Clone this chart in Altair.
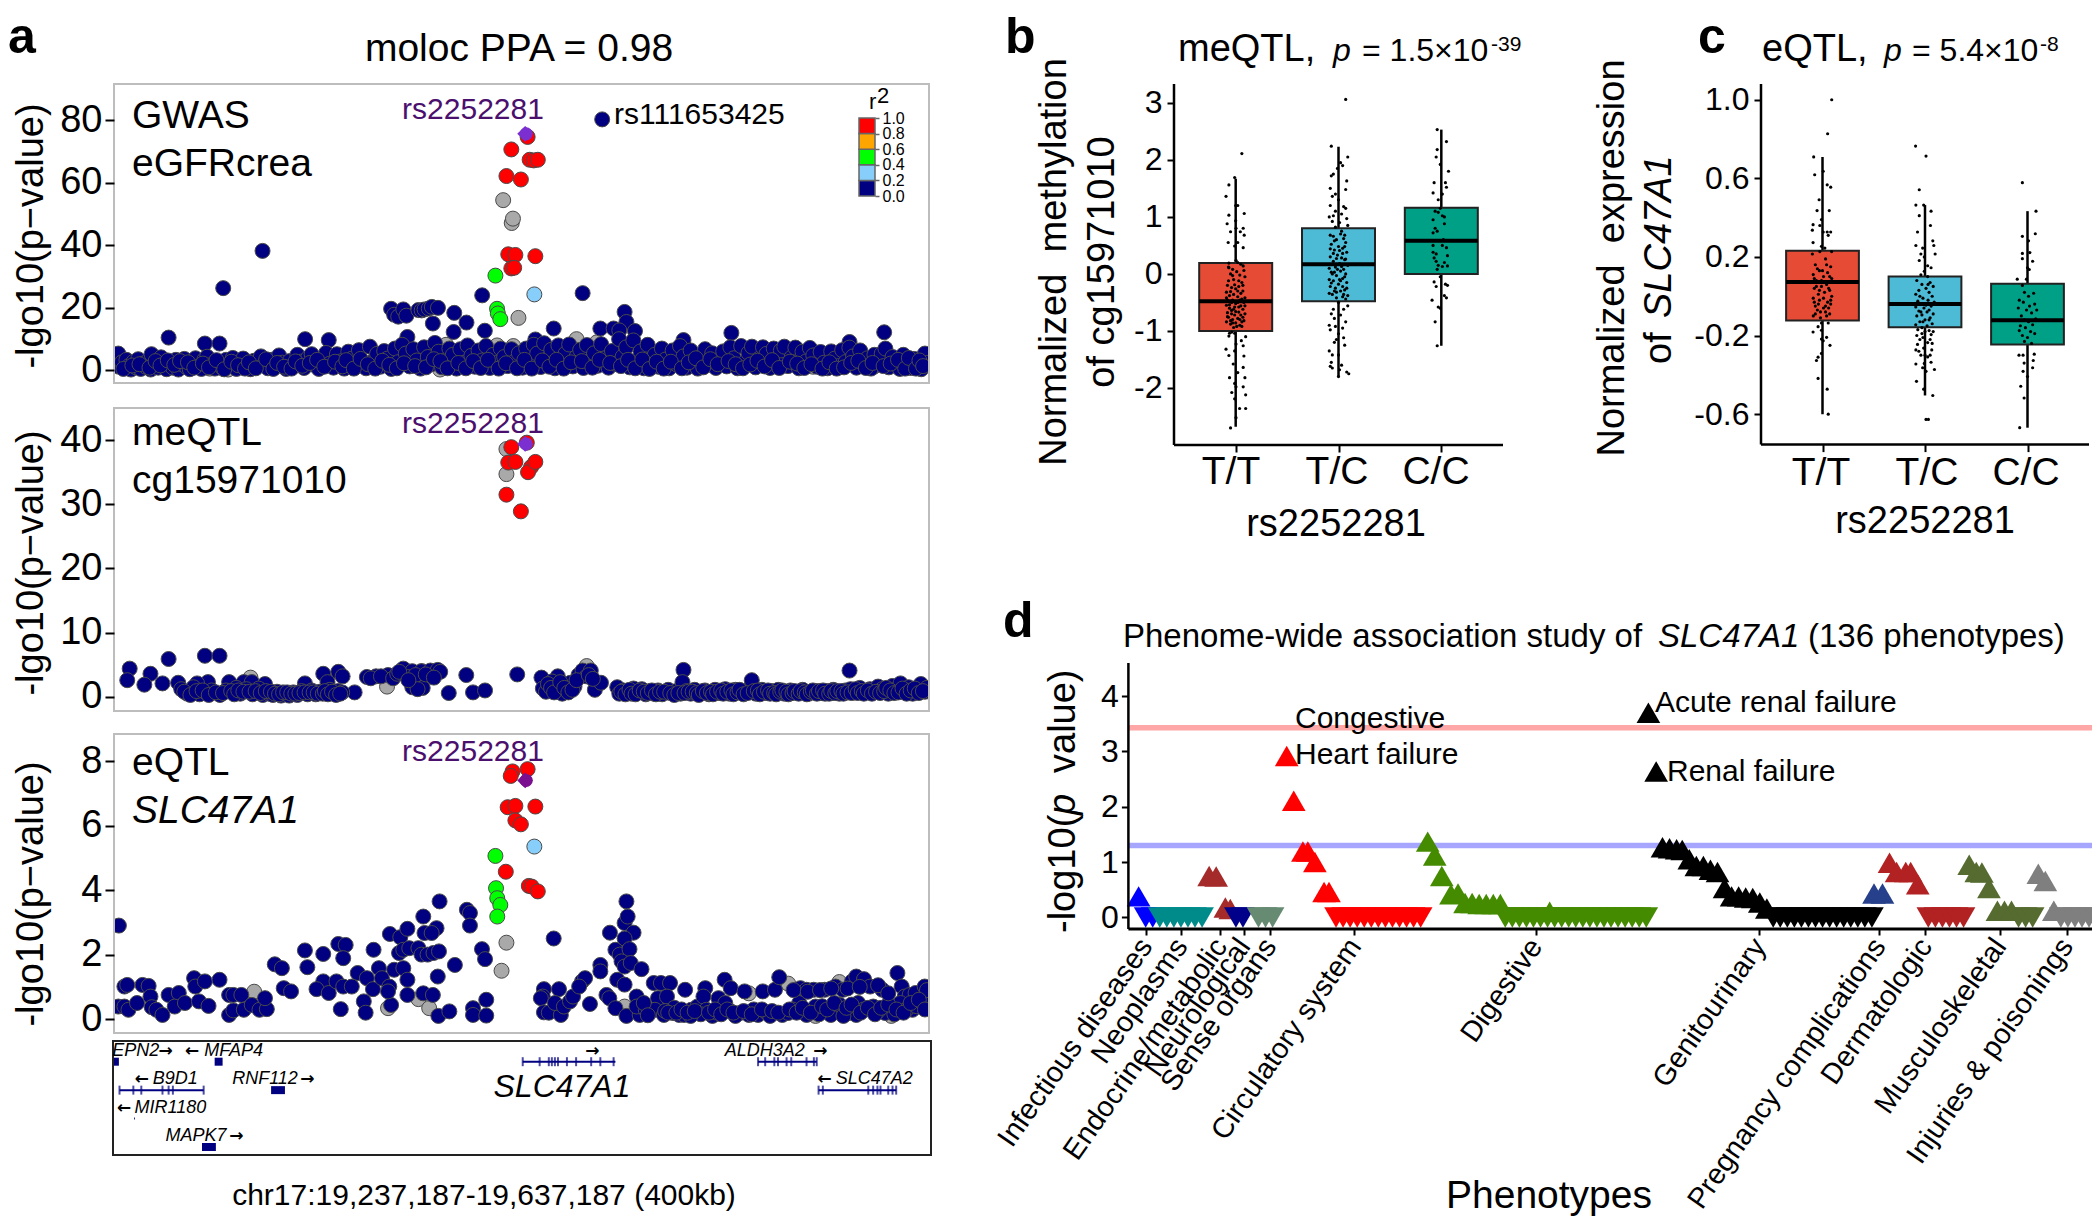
import altair as alt
import pandas as pd

F = "Liberation Sans"
NAVY, RED, GREEN, LBLUE, GRAY = "#000080", "#FF0000", "#00FF00", "#87CEFA", "#A9A9A9"
NB = "\u00a0"

# ---------- panel a : kb from window start, -log10 p ----------
a1_gray = [(47,0.6),(54,0.4),(56,0.3),(163,8.2),(188,8),(196,7.8),(199,5),(227,10),(237,9),(238,6),(160,0.3),(343,1.2),(373,1.2),(149,6),(142,7)]
a1_navy = [(239.6,80.2),(72.9,38.2),(53.6,26.3),(180.7,24),(230,24.7),(136,19.7),(137.5,17.8),(139.5,17.2),(142,19.5),(143.5,17.5),(149.4,19.3),(151,19.2),(152.4,19.5),(154.5,19.8),(156,20.3),(159,20),(156.5,15),(167,18.4),(173,15.3),(166.7,12.3),(182,12.7),(26.8,10.5),(44.6,8.6),(51.8,8.6),(93.8,10),(105.4,9.7),(144,10.7),(250.6,18.7),(251.5,15.5),(255.7,12.6),(238.7,13.4),(245.2,13.4),(248,12.8),(279.5,9.7),(303,12),(378,12.2),(361,9.1),(215.8,13.4),(206.8,9.9),
(2.1,5.4),(2.4,1.2),(3.9,2.6),(5.2,0.8),(6.1,3.4),(7.4,1.5),(8.3,0.3),(9.6,2.8),(10.8,1.0),(11.9,3.6),(13.1,0.5),(14.2,2.2),(15.6,1.2),(16.7,3.1),(18.0,0.3),(19.2,2.0),(18.4,5.2),(21.7,0.9),(23.1,4.2),(24.6,1.6),(25.8,0.4),(27.3,2.6),(28.9,0.9),(30.4,3.4),(31.6,0.3),(33.0,2.1),(34.5,3.7),(35.7,1.0),(37.2,0.4),(38.6,2.9),(40.0,3.9),(41.3,1.3),(42.9,0.5),(44.4,3.5),(45.7,4.4),(47.8,1.8),(49.5,0.6),(51.0,2.5),(53.2,0.9),(55.0,3.4),(56.9,1.4),(58.3,4.0),(60.1,0.5),(61.8,2.6),(63.4,3.8),(65.2,1.1),(67.0,0.4),(68.7,3.1),(70.4,1.6),(72.1,4.5),(73.9,2.2),(75.5,0.7),(77.3,3.4),(79.2,1.2),(81.0,4.8),(82.6,2.5),(84.5,0.5),(86.2,3.0),(88.1,1.3),(90.0,5.0),(91.6,2.8),(93.3,0.8),(95.2,4.0),(97.0,5.2),(98.8,1.6),(100.5,0.5),(102.3,3.5),(104.1,5.6),(106.0,2.2),(107.7,0.9),(109.4,5.2),(111.2,2.9),(113.0,0.6),(115.0,6.0),(116.8,3.8),(118.5,1.0),(120.2,6.5),(122.0,2.4),(123.7,0.7),(125.6,7.6),(127.3,3.1),(129.1,5.3),(130.8,1.2),(132.6,6.2),(134.2,3.8),(136.1,0.5),(137.9,7.0),(139.6,2.7),(141.4,8.2),(143.2,5.4),(145.1,1.3),(146.9,6.8),(148.6,3.2),(150.4,0.6),(152.2,7.4),(154.0,4.3),(155.8,2.0),(157.5,8.8),(159.3,6.0),(161.0,1.0),(162.8,3.3),(164.6,7.0),(166.3,5.0),(168.1,0.6),(170.0,6.8),(171.8,2.5),(173.5,8.0),(175.4,4.7),(177.1,1.2),(178.9,6.4),(180.7,3.2),(182.6,7.8),(184.4,0.8),(186.1,5.0),(187.9,2.4),(189.8,7.0),(191.5,4.3),(193.2,1.4),(195.1,6.8),(196.9,3.0),(198.7,5.5),(200.5,0.9),(202.3,7.0),(204.1,2.6),(206,8.2),(207.7,5.4),(209.4,1.1),(211.1,8.7),(212.8,3.7),(214.6,6.6),(216.4,0.7),(218.1,8.0),(219.9,2.9),(221.6,5.4),(223.4,8.3),(225.2,1.3),(227,4.3),(228.8,6.6),(230.4,0.8),(232.1,8.1),(233.9,3.1),(235.6,5.5),(237.4,1.5),(239.1,8.4),(241,3.9),(242.7,0.9),(244.4,6.2),(246.2,2.1),(247.9,10.0),(249.6,4.4),(251.4,7.4),(253.1,1.0),(254.9,9.6),(256.7,3.0),(258.4,6.1),(260.1,0.7),(261.9,8.2),(263.7,2.6),(265.4,5.0),(267.1,1.2),(268.9,7.0),(270.7,3.5),(272.5,0.7),(274.2,6.4),(276,2.0),(277.8,7.8),(279.5,4.5),(281.2,0.9),(283,6.4),(284.8,2.9),(286.5,0.6),(288.3,4.5),(290.1,6.8),(291.8,1.8),(293.6,5.5),(295.4,0.8),(297.2,3.3),(299,6.1),(300.7,1.3),(302.5,7.4),(304.2,3.9),(306,0.7),(307.8,7.8),(309.6,2.6),(311.4,5.6),(313.1,7.6),(314.9,1.0),(316.7,3.8),(318.5,7.4),(320.2,5.3),(322,0.8),(323.8,7.0),(325.6,2.6),(327.3,6.4),(329,7.6),(330.8,1.4),(332.6,4.2),(334.4,7.3),(336.1,0.7),(337.9,6.0),(339.7,2.9),(341.5,7.2),(343.2,4.8),(345,1.2),(346.8,5.9),(348.5,2.5),(350.2,0.7),(352,6.1),(353.8,3.8),(355.6,1.4),(357.4,6.5),(359.1,2.7),(360.9,7.3),(362.7,4.5),(364.4,0.9),(366.2,6.4),(368,2.0),(369.8,3.9),(371.5,0.6),(373.2,5.0),(375,2.7),(376.8,5.4),(378.6,7.0),(380.3,1.0),(382.1,4.3),(383.9,2.2),(385.7,0.5),(387.4,5.0),(389.2,2.8),(391,0.8),(392.7,3.7),(394.5,1.7),(396.2,0.4),(398,5.4),(398.9,2.4)]
a1_extra = [(4.6,0.5),(9,1.6),(12.5,2.0),(17.4,0.9),(20.4,3.0),(22.8,1.6),(26.4,3.2),(29.6,1.8),(32.4,3.0),(36.3,2.6),(39.4,0.9),(43.6,2.2),(46.6,1.0),(50.3,3.3),(54.1,0.4),(57.6,2.8),(60.9,1.7),(64.3,0.6),(66.2,2.6),(69.6,0.7),(74.7,3.6),(78.2,0.5),(80.1,2.4),(83.5,1.2),(87.1,0.6),(89.1,2.9),(92.4,1.5),(96.1,2.4),(99.7,3.4),(103.2,1.2),(108.5,2.8),(112.1,1.3),(114,3.3),(117.7,0.6),(121,3.7),(124.6,2.0),(128.2,0.6),(131.7,3.1),(135.1,1.8),(138.8,0.7),(142.3,2.3),(147.8,1.4),(153.1,1.0),(157,3.6),(160.2,3.0),(163.7,0.7),(169,2.4),(172.7,0.7),(176.3,3.0),(180,0.8),(183.5,3.4),(188.8,0.6),(192.4,2.3),(197.8,0.7),(201.4,3.4),(205,0.6),(210.2,3.2),(213.7,1.2),(217.2,3.4),(220.7,0.6),(224.3,2.6),(229.6,3.0),(234.8,0.9),(238.3,3.4),(243.5,2.4),(248.8,1.4),(252.3,3.4),(255.8,0.7),(259.3,3.5),(262.8,0.5),(266.3,2.8),(269.8,0.6),(273.3,2.8),(278.7,0.7),(282.1,2.6),(285.6,3.9),(289.2,1.0),(292.7,3.6),(296.3,2.0),(301.6,3.0),(305.1,2.0),(308.7,0.7),(312.3,1.9),(315.8,3.1),(319.3,1.3),(323,3.3),(326.5,0.8),(331.7,2.8),(335.3,2.2),(338.8,0.8),(342.3,2.0),(347.7,0.6),(351.1,2.6),(354.7,0.6),(358.3,1.0),(361.8,2.4),(365.3,3.1),(369,0.8),(372.3,2.4),(377.7,1.4),(381.2,2.2),(384.8,3.4),(388.3,0.6),(390.1,4.0),(393.6,0.6),(395.3,3.2),(397.1,1.4)]
a1_red = [(203,74.6),(195,70.6),(204,67.3),(206,67.1),(208,67.3),(192.6,62.1),(199.7,61),(193.5,37.1),(197,36.9),(206.8,36.5),(195,32.6),(196.4,32.8)]
a1_grayhi = [(191,54.4),(195.2,47.1),(195.8,48.5),(198.5,16.8)]
a1_green = [(187.2,30.3),(188,19.7),(188.4,18.2),(189.6,16.4)]
a1_lblue = [(206.3,24.3)]
top_snp_x = [201.8]
a1_top = [75.6]
a2_top = [39.4]
a3_top = [7.4]

a2_gray = [(134,1.6),(67,3),(146,2.5),(151,4),(232,4.8),(192.6,38.6),(192.6,34.7),(352,0.6)]
a2_navy = [(7.7,4.4),(6.5,2.6),(17.9,3.6),(14.9,1.9),(26.8,5.9),(23.8,2.1),(31.5,2.2),(44.6,6.4),(51.8,6.4),(46.1,2.3),(40.8,2.1),(56.5,2.3),(63.7,2.3),(67.6,2.3),(74.1,2),(93.7,2.1),(102.7,3.6),(110.1,3.9),(112.2,3.2),(104.8,2.3),(118.1,0.7),(124.1,3.1),(128.6,3.2),(134.5,3.4),(142,4.4),(146.4,4),(150.9,4),(155.3,4.1),(158.9,4.2),(160.1,3.9),(146.4,1.5),(151.5,1.4),(164.3,0.6),(172.9,3.4),(176.2,0.7),(182.1,1),(197.9,3.5),
(33,1.2),(36,0.5),(39,1.5),(42,0.4),(45,0.7),(48,1.0),(52,0.3),(55,1.0),(60,1.4),(62,0.5),(65,1.2),(68,0.4),(71,1.3),(73,0.3),(76,0.5),(78,0.3),(80,0.8),(82,0.2),(84,0.5),(86,0.2),(88,0.7),(90,0.3),(92,0.9),(95,0.4),(97,1.0),(99,0.4),(101,0.8),(104,0.6),(106,1.1),(108,0.5),(110,0.9),(112,0.7),
(126,2.9),(131,3.2),(137,2.9),(139,3.6),(144,3.1),(148,3.4),(153,3.5),(157,3.0),(140,3.9),(149,1.2),(144.5,2.6),
(209.8,3),(217.8,3.2),(210.5,1.3),(212,0.8),(215,2.4),(218,1.2),(220,0.5),(222,1.1),(224,2.2),(226,1.6),(228,3.4),(230,4.1),(232,3.2),(234,4.1),(236,1.1),(239,2.2),(247,1.5),(248,0.5),(250,1.0),(252,0.7),(255,1.3),(257,0.8),(259,1.2),(261,0.4),(263,0.9),(265,0.5),(267,1.0),(269,0.4),(272,1.1),(274,0.6),(276,0.9),(278,0.5),(279.5,4.2),(279,2.3),(281,0.9),(283,0.5),(285,1.1),(288,0.6),(290,1.0),(292,0.4),(295,1.1),(297,0.6),(300,1.2),(302,0.5),(305,1.1),(308,0.6),(310,0.9),(312,1.2),(313,2.6),(315,0.5),(318,1.1),(320,0.6),(323,0.9),(326,1.1),(329,0.5),(332,1.0),(335,0.7),(338,1.1),(341,0.5),(344,0.9),(347,0.6),(350,0.9),(353,1.1),(356,0.5),(359,1.0),(361,4.1),(361.5,1.2),(363,0.7),(366,1.4),(369,0.7),(371,1.2),(373,0.9),(375,1.6),(377,1.2),(380,0.5),(382,1.7),(384,1.2),(386,2.1),(388,0.8),(390,1.5),(392,0.5),(394,1.1),(396,2.0),(398,0.8),(399,1.4)]
a2_extra = [(34.5,0.8),(37.5,0.3),(40.5,0.9),(43.5,1.0),(46.5,0.3),(50,0.7),(53.5,0.6),(57.5,0.9),(59,0.4),(61,1.0),(63.5,0.8),(66.5,0.8),(69.5,0.9),(72,0.6),(74.5,0.9),(77,0.8),(79,0.5),(81,0.4),(83,0.7),(85,0.7),(87,0.5),(89,0.5),(91,0.6),(93.5,0.7),(96,0.7),(98,0.7),(100,0.5),(102.5,0.5),(103.5,0.9),(105,0.4),(107,0.8),(109,0.3),(111,0.5),(213,2.0),(214.5,1.4),(216,0.7),(219,2.3),(221,1.4),(223,0.7),(225,1.1),(227,2.6),(233,3.4),(235,2.8),(249,0.8),(251,0.4),(253,1.1),(254,0.5),(256,0.4),(258,1.0),(260,0.8),(262,0.6),(264,1.0),(266,0.4),(268,0.8),(270,0.8),(273,0.6),(275,0.3),(277,0.6),(280,0.6),(282,0.8),(284,0.8),(286,0.6),(287,0.3),(289,0.9),(291,0.6),(293,0.8),(294,0.4),(296,0.8),(298,1.0),(299,0.5),(301,0.8),(303,1.0),(304,0.4),(306,0.7),(307,1.1),(309,0.4),(311,0.6),(314,0.9),(316,1.0),(317,0.4),(319,0.8),(321,1.0),(322,0.5),(324,0.6),(325,0.4),(327,0.8),(328,1.0),(330,0.8),(331,0.4),(333,0.6),(334,0.9),(336,0.5),(337,0.9),(339,0.7),(340,0.4),(342,0.8),(343,1.0),(345,0.5),(346,0.9),(348,1.0),(349,0.5),(351,0.5),(352,0.9),(354,0.6),(355,0.9),(357,0.9),(358,0.5),(360,0.7),(362,0.6),(364,1.2),(365,0.6),(367,0.9),(368,0.5),(370,1.0),(372,0.5),(374,0.8),(376,0.6),(378,0.9),(379,1.4),(381,1.0),(383,0.6),(385,0.7),(387,1.3),(389,0.5),(391,1.0),(393,1.3),(395,0.6),(397,0.9)]
a2_red = [(195,38.9),(193.5,36.5),(197,36.6),(204.7,35.8),(203.2,35),(206.8,36.6),(192.6,31.5),(199.7,28.9),(202.6,39.6)]

a3_gray = [(134.5,0.34),(149.4,0.62),(154.7,0.34),(68.8,0.85),(250.6,0.39),(311.6,0.8),(330.9,1.1),(356,1.15),(344.3,0.1),(381.5,0.1)]
a3_grayhi = [(192.6,2.37),(190.2,1.5)]
a3_navy = [(2.4,2.9),(5.1,1.01),(6.5,1.06),(2.1,0.39),(5.1,0.39),(7.1,0.29),(11.3,0.5),(14,1.06),(17,1.03),(17.9,0.7),(18.5,0.37),(20.8,0.29),(23.8,0.13),(26.8,0.75),(31.8,0.81),(29.8,0.39),(34.8,0.5),(39.3,1.27),(39.9,1.01),(41.7,0.55),(44.6,1.17),(46.4,0.41),(51.8,1.22),(56.5,0.75),(58.6,0.75),(62.5,0.75),(56.5,0.13),(58.6,0.27),(63.7,0.29),(67.6,0.44),(71.4,0.29),(75,0.31),(74.1,0.65),(78.9,1.7),(82.4,1.58),(83.3,0.96),(86.9,0.86),(93.7,2.13),(94.9,1.61),(102.7,2.02),(102.7,1.17),(99.4,0.93),(105.4,0.81),(110.1,2.33),(113.7,2.3),(112.5,1.89),(111.3,0.31),(109.2,1.17),(112.5,1.01),(119.6,1.43),(116.7,1.01),(122.6,0.55),(123.5,0.2),(127.4,2.15),(124.1,1.27),(127.1,0.93),(130,1.58),(131.5,1.27),(135.1,1.01),(135.4,2.64),(140.5,2.54),(137.5,1.53),(139.9,2.05),(142,2.15),(144.9,2.2),(144,2.8),(142,1.58),(144,1.22),(136,0.44),(134.5,0.86),(144,0.75),(149.4,2.2),(151.8,3.18),(152.4,2.67),(150.9,2.0),(153.9,2.0),(156.8,2.05),(158.3,2.82),(155.9,2.67),(159.5,2.1),(159.8,3.65),(158.9,1.32),(167.3,1.68),(151.8,0.8),(156.5,0.75),(159.2,0.1),(164.6,0.24),(173.2,3.39),(174.7,3.29),(174.7,2.9),(180.6,2.17),(182.1,1.86),(176.2,0.34),(176.2,0.13),(182.7,0.6),(182.7,0.11),
(211,0.93),(210.4,0.7),(209.5,0.65),(211,0.21),(213.4,0.2),(219.3,0.13),(218.4,0.93),(216.4,0.5),(220.8,0.39),(223.8,0.55),(225.3,0.7),(215.8,2.5),(229.7,1.17),(231.2,1.27),(228.3,1.01),(233.6,0.47),(238.7,1.68),(238.7,1.48),(241.7,0.75),(243.1,0.65),(246.1,0.34),(243.4,2.68),(246.1,2.15),(248.2,2.0),(250.6,2.98),(251.5,3.65),(252.1,3.18),(255,2.68),(250.6,2.5),(253,2.17),(249.1,1.79),(250.6,1.63),(253.6,1.74),(258.9,1.55),(247,1.22),(250.6,1.07),(251.5,0.1),(256.5,0.7),(258,0.13),(256.5,0.39),(261,0.29),(264.9,1.12),(268.4,1.12),(272.9,1.12),(267,0.65),(271.4,0.7),(265.5,0.29),(269.9,0.13),(274.4,0.19),(277.4,0.13),(280.3,0.91),(279.8,0.13),(283.3,0.29),(286.3,0.39),(290.2,0.96),(289.3,0.7),(290.8,0.29),(293.7,0.1),(296.7,0.65),(299.7,1.22),(302.7,0.96),(309.5,0.86),(302.7,0.24),(307.1,0.19),(311.6,0.13),(316.1,0.13),(318.4,0.86),(320.5,0.19),(324.4,0.91),(326.5,1.3),(328,0.13),(330.9,0.19),(336.9,0.96),(336.3,0.5),(339.9,0.91),(343.4,0.91),(339.9,0.13),(344.3,0.39),(348.8,0.91),(354.1,1.01),(351.8,0.13),(357.7,0.91),(356.2,0.44),(362.2,1.17),(364.3,1.32),(368.1,1.24),(360.7,0.19),(365.2,0.5),(364.3,0.13),(371.1,1.01),(372.6,0.39),(377.1,0.91),(381.5,0.24),(384.5,1.43),(386.6,1.01),(388.1,0.7),(390.5,0.75),(393.4,0.81),(397.9,1.01),(396.4,0.5),(391.9,0.29),(386,0.5),(378.5,0.19),(399.4,0.5),
(300,0.5),(305,0.1),(314,0.3),(322,0.1),(333,0.3),(346,0.15),(358,0.1),(368,0.3),(375,0.25),(383,0.15),(389,0.3),(394,0.4),(399,0.9),(296,0.2),(288,0.15),(283,0.1),(275,0.35),(260,0.5),(262,0.12),
(270.5,0.25),(272,0.2),(276,0.2),(278.5,0.3),(281.5,0.2),(285,0.25),(292,0.2),(295,0.3),(298,0.15),(301,0.3),(304,0.2),(309,0.25),(313,0.15),(318,0.3),(323,0.25),(326,0.2),(331.5,0.3),(335,0.2),(338,0.35),(342,0.2),(347.5,0.4),(350,0.3),(353.5,0.5),(359.5,0.35),(362,0.45),(366.5,0.2),(370,0.35),(373.5,0.15),(376.5,0.35),(380,0.45),(384,0.3),(387.5,0.2),(391,0.5),(395,0.6),(398,0.3),(333.5,0.9),(340.5,0.85),(346.5,0.9),(352,0.95),(360,0.95),(366,1.0),(375,1.05),(380,0.8)]
a3_red = [(203,7.75),(195.6,7.68),(194.7,7.54),(193.2,6.57),(197,6.61),(206.8,6.59),(197,6.16),(199.7,6.04),(192.3,4.57),(203.6,4.13),(205,4.11),(208,3.96)]
a3_green = [(187.2,5.06),(187.5,4.06),(188.1,3.75),(189.6,3.54),(188.1,3.18)]
a3_lblue = [(206.3,5.35)]

# genes: kb positions, track row
gene_lines = [("SLC47A1",200.6,246.1,1),("ALDH3A2",316.1,344.9,1),("B9D1",2.7,44,2),("SLC47A2",345.8,383.9,2),("EPN2",0,2.4,1),("MFAP4",49.4,53.3,1),("RNF112",77.1,83.9,2),("MAPK7",43.2,50,4),("MIR1180",9.9,10.3,3)]
gene_block = ["EPN2","MFAP4","RNF112","MAPK7"]
exon_x = [200.6,208.9,213.4,214.9,216.4,217.9,222.3,226.8,234.2,238.7,245.2,316.1,319.6,324.1,325.9,330.1,332.4,339.9,343.5,344.9,2.7,9.5,13.4,23.8,26.8,28.9,44,345.8,347.9,370.2,372.6,374.7,376.2,380,382.1,383.9]
exon_row = [1]*20 + [2]*16
gene_names = ["EPN2","MFAP4","ALDH3A2","B9D1","RNF112","SLC47A2","MIR1180","MAPK7"]
gene_label_kb = [-0.9,44.3,299.7,19,58,354.2,10.1,25.3]
gene_label_row = [1,1,1,2,2,2,3,4]
arrow_kb = [25.3,38.4,346.7,13.7,94.9,348.8,5,60,234.8]
arrow_row = [1,1,1,2,2,2,3,4,1]
arrow_txt = ["→","←","→","←","→","←","←","→","→"]

# legend
r2_lo = [0,0.2,0.4,0.6,0.8]
r2_hi = [0.2,0.4,0.6,0.8,1.0]
r2_col = [NAVY,LBLUE,GREEN,"#FFA500",RED]

# ---------- panels b, c ----------
NPG = ["#E64B35","#4DBBD5","#00A087"]
genotypes = ["T/T","T/C","C/C"]
geno_idx = [1,2,3]
b_q1 = [-1.0,-0.48,0.0]; b_med = [-0.48,0.17,0.58]; b_q3 = [0.19,0.8,1.16]; b_lo = [-2.68,-1.8,-1.26]; b_hi = [1.67,2.23,2.53]
c_q1 = [-0.124,-0.158,-0.245]; c_med = [0.073,-0.04,-0.122]; c_q3 = [0.231,0.1,0.064]; c_lo = [-0.6,-0.505,-0.669]; c_hi = [0.709,0.464,0.433]

b_tt = [(0.06,2.11),(-0.01,1.69),(-0.066,1.56),(-0.094,1.36),(0,1.2),(0.02,1.2),(-0.066,1.03),(0.083,1.06),(0,0.93),(-0.083,0.88),(0.073,0.8),(-0.05,0.74),(0.003,0.8),(0.083,0.68),(0.045,0.74),(-0.073,0.55),(0.02,0.55),(-0.01,0.49),(0.073,0.46),(0.003,0.24),(-0.066,0.19),(0.02,0.2),(-0.03,0.08),(0.073,0.14),(-0.066,0.11),
(-0.05,0.0),(0.01,0.04),(0.04,-0.02),(0.08,0.06),(-0.02,-0.1),(0.06,-0.15),(-0.08,-0.2),(-0.04,-0.24),(0.0,-0.26),(0.03,-0.22),(0.07,-0.3),(-0.09,-0.32),(-0.06,-0.38),(-0.02,-0.36),(0.02,-0.4),(0.05,-0.34),(0.09,-0.42),(-0.08,-0.46),(-0.04,-0.5),(0.0,-0.52),(0.04,-0.46),(0.08,-0.5),(-0.09,-0.55),(-0.06,-0.6),(-0.02,-0.62),(0.03,-0.58),(0.07,-0.62),(-0.08,-0.68),(-0.04,-0.7),(0.0,-0.66),(0.05,-0.72),(0.09,-0.7),(-0.07,-0.76),(-0.03,-0.8),(0.02,-0.78),(0.06,-0.84),(-0.05,-0.88),(0.0,-0.86),(0.04,-0.9),(0.08,-0.82),(-0.02,-0.94),
(-0.06,-1.04),(-0.038,-1.02),(-0.01,-1.04),(-0.066,-1.09),(0.097,-1.1),(0.055,-1.17),(0.003,-1.23),(-0.094,-1.32),(-0.01,-1.35),(0.073,-1.26),(-0.066,-1.43),(0.08,-1.44),(-0.024,-1.58),(0.073,-1.64),(0.02,-1.73),(-0.06,-1.82),(0.09,-1.82),(-0.01,-1.92),(0.003,-1.98),(0.073,-1.98),(-0.038,-2.08),(0.097,-2.12),(-0.01,-2.19),(0.038,-2.36),(0.097,-2.36),(0.003,-2.52),(-0.05,-2.7),
(-0.07,0.12),(0.05,0.17),(0.09,-0.05),(-0.03,-0.03),(-0.07,-0.12),(0.03,-0.12),(-0.01,-0.19),(0.07,-0.2),(-0.05,-0.31),(0.02,-0.3),(-0.09,-0.42),(0.06,-0.44),(-0.03,-0.46),(0.02,-0.5),(-0.06,-0.54),(0.05,-0.56),(-0.01,-0.58),(0.09,-0.56),(-0.04,-0.64),(0.03,-0.67),(-0.08,-0.75),(0.07,-0.76),(-0.01,-0.72),(0.04,-0.8),(-0.05,-0.82),(-0.09,-0.84),(0.01,-0.92),(-0.03,-0.86),(0.06,-0.92)]
b_tc = [(0.07,3.06),(-0.07,2.24),(0.09,2.05),(0.02,1.95),(0.04,1.9),(-0.01,1.85),(-0.05,1.75),(-0.07,1.72),(0.08,1.63),(-0.08,1.5),(0.07,1.48),(-0.03,1.4),(-0.06,1.36),(0.0,1.3),(-0.08,1.2),(0.05,1.18),(0.07,1.15),(-0.03,1.1),(-0.05,1.02),(0.03,1.05),(-0.09,1.0),(0.08,0.97),(0.01,0.9),(-0.06,0.92),(0.09,0.85),(-0.03,0.82),
(-0.08,0.68),(-0.05,0.66),(0.02,0.7),(0.05,0.62),(-0.02,0.6),(0.07,0.55),(-0.07,0.52),(0.0,0.48),(0.04,0.45),(-0.04,0.42),(0.08,0.38),(-0.08,0.3),(-0.01,0.33),(0.03,0.28),(0.06,0.25),(-0.05,0.22),(0.01,0.18),(0.09,0.15),(-0.09,0.1),(-0.03,0.12),(0.05,0.08),(0.02,0.05),(-0.07,0.03),(0.07,0.0),(-0.02,-0.03),(0.04,-0.08),(-0.09,-0.1),(-0.05,-0.12),(0.08,-0.15),(0.0,-0.18),(-0.08,-0.22),(-0.03,-0.25),(0.06,-0.28),(0.02,-0.3),(-0.09,-0.34),(-0.06,-0.36),(0.09,-0.38),(0.04,-0.4),(-0.02,-0.42),(0.07,-0.44),
(0.0,-0.5),(0.09,-0.56),(-0.05,-0.62),(0.05,-0.62),(-0.07,-0.7),(0.02,-0.72),(-0.04,-0.78),(0.07,-0.84),(-0.09,-0.9),(-0.03,-0.92),(0.04,-0.95),(-0.08,-0.98),(0.0,-1.05),(-0.02,-1.15),(0.05,-1.12),(-0.04,-1.2),(0.06,-1.25),(-0.09,-1.35),(-0.06,-1.42),(0.0,-1.42),(-0.07,-1.55),(0.03,-1.6),(-0.08,-1.62),(-0.06,-1.65),(0.01,-1.68),(0.08,-1.72),(0.1,-1.75),(0.0,-1.8),
(0.03,0.75),(-0.04,0.58),(0.06,0.68),(-0.08,0.44),(0.01,0.41),(0.06,0.48),(-0.05,0.36),(-0.02,0.27),(0.04,0.36),(-0.06,0.17),(0.03,0.13),(-0.01,0.08),(0.07,0.26),(-0.04,0.03),(0.06,-0.05),(0.01,-0.1),(-0.07,-0.16),(0.04,-0.22),(-0.02,-0.32),(0.05,-0.36),(-0.04,-0.3),(0.02,-0.12),(0.08,-0.25),(-0.06,0.0)]
b_cc = [(-0.04,2.53),(0.05,2.32),(-0.04,2.18),(-0.05,2.05),(-0.01,1.92),(0.07,1.8),(-0.07,1.6),(-0.08,1.42),(0.04,1.6),(0.05,1.52),(0.01,1.4),(-0.03,1.3),(-0.01,1.15),(-0.06,1.1),(-0.03,1.08),(0.01,1.02),(0.03,1.0),(-0.08,0.95),(0.03,0.88),(-0.06,0.8),(-0.04,0.75),(-0.08,0.72),(0.02,0.6),(-0.08,0.5),(0.01,0.5),(0.05,0.46),(-0.08,0.38),(-0.05,0.35),(0.06,0.32),(-0.07,0.28),(-0.05,0.22),(-0.03,0.15),(0.01,0.13),(0.06,0.14),(-0.04,0.08),(0.03,0.2),(-0.01,-0.05),(-0.07,-0.14),(-0.05,-0.22),(0.04,-0.18),(0.06,-0.2),(-0.09,-0.46),(0.03,-0.38),(0.05,-0.42),(-0.01,-0.6),(-0.03,-0.58),(-0.06,-0.84),(-0.04,-1.26)]

c_tt = [(0.09,1.0),(0.05,0.827),(-0.086,0.709),(-0.076,0.618),(0.007,0.636),(0.046,0.567),(0.08,0.555),(-0.033,0.491),(-0.053,0.436),(0.066,0.436),(-0.01,0.39),(-0.092,0.364),(-0.026,0.36),(-0.099,0.336),(0.007,0.327),(0.046,0.327),(0.08,0.327),(0.056,0.31),(-0.092,0.273),(-0.01,0.254),(0.023,0.245),(0.089,0.227),(-0.026,0.227),(-0.099,0.215),
(0.03,0.19),(-0.07,0.16),(0.08,0.15),(-0.03,0.13),(0.05,0.12),(-0.09,0.11),(0.01,0.1),(0.09,0.09),(-0.06,0.08),(0.04,0.06),(-0.01,0.05),(-0.08,0.04),(0.07,0.03),(0.02,0.02),(-0.04,0.01),(0.09,0.0),(-0.09,-0.01),(-0.03,-0.02),(0.05,-0.03),(0.08,-0.04),(-0.07,-0.05),(0.01,-0.06),(-0.05,-0.07),(0.03,-0.08),(0.07,-0.09),(-0.09,-0.1),(-0.02,-0.11),
(-0.01,-0.136),(0.056,-0.136),(-0.043,-0.155),(-0.092,-0.182),(-0.01,-0.173),(0.04,-0.209),(-0.01,-0.218),(0.007,-0.227),(0.073,-0.25),(-0.043,-0.31),(-0.01,-0.291),(-0.059,-0.327),(-0.043,-0.418),(0.046,-0.473),(0.056,-0.6),
(-0.05,0.14),(0.04,0.16),(0.0,0.13),(0.07,0.1),(-0.08,0.09),(-0.01,0.08),(0.03,0.07),(-0.06,0.05),(0.06,0.04),(-0.03,0.03),(0.01,-0.01),(0.08,-0.02),(-0.08,-0.03),(-0.04,-0.04),(0.03,-0.05),(0.06,-0.06),(-0.02,-0.08),(-0.07,-0.09),(0.04,-0.1)]
c_tc = [(-0.092,0.764),(0.01,0.713),(-0.056,0.542),(-0.089,0.464),(-0.013,0.464),(0.059,0.433),(-0.056,0.41),(0.053,0.36),(-0.073,0.327),(0.076,0.282),(0.086,0.258),(-0.089,0.258),(-0.023,0.245),(-0.04,0.215),(0.099,0.215),(-0.007,0.2),(-0.056,0.182),(0.026,0.155),(-0.007,0.127),(0.059,0.145),(-0.04,0.109),(0.026,0.1),
(-0.08,0.08),(0.05,0.07),(-0.03,0.06),(0.08,0.05),(0.01,0.04),(-0.06,0.03),(0.04,0.02),(-0.09,0.01),(0.07,0.0),(-0.02,-0.01),(0.03,-0.02),(-0.07,-0.025),(0.09,-0.03),(-0.04,-0.04),(0.01,-0.045),(0.06,-0.05),(-0.09,-0.055),(-0.01,-0.06),(0.04,-0.07),(-0.06,-0.075),(0.02,-0.08),(0.08,-0.09),(-0.03,-0.095),(-0.08,-0.1),(0.05,-0.11),(0.0,-0.12),(-0.05,-0.13),(0.07,-0.14),(-0.09,-0.145),(0.02,-0.15),(-0.03,-0.16),
(-0.07,-0.17),(0.04,-0.175),(0.0,-0.18),(-0.03,-0.19),(0.06,-0.195),(-0.073,-0.245),(0.026,-0.236),(-0.013,-0.264),(-0.089,-0.273),(0.066,-0.273),(-0.04,-0.3),(0.026,-0.309),(-0.089,-0.345),(-0.007,-0.342),(0.059,-0.336),(0.092,-0.373),(-0.023,-0.364),(0.01,-0.382),(-0.083,-0.433),(-0.013,-0.473),(0.076,-0.505),(0.01,-0.627),(0.033,-0.627),
(-0.05,-0.22),(0.05,-0.22),(-0.02,-0.21),(0.07,-0.24),(-0.06,-0.28),(0.0,-0.3),(0.05,-0.3),(-0.08,-0.2),(0.08,-0.18),(-0.04,-0.08),(0.02,-0.04),(0.04,-0.12),(-0.02,-0.13),(0.03,0.06),(-0.05,0.0)]
c_cc = [(-0.05,0.578),(0.083,0.433),(-0.05,0.305),(0.076,0.318),(0.01,0.282),(-0.05,0.218),(0.023,0.222),(-0.05,0.191),(0.05,0.178),(0,0.145),(0.017,0.136),(-0.1,0.087),(-0.01,0.087),(-0.05,0.055),
(-0.03,0.02),(0.01,0.0),(0.06,0.015),(-0.08,-0.02),(-0.04,-0.03),(0.07,-0.04),(0.02,-0.05),(-0.09,-0.06),(-0.01,-0.07),(0.09,-0.07),(0.04,-0.085),(-0.06,-0.1),(-0.03,-0.12),(0.01,-0.13),(0.08,-0.115),(-0.07,-0.15),(0.05,-0.145),(-0.02,-0.16),(-0.08,-0.175),(0.03,-0.18),(0.07,-0.19),(-0.05,-0.2),(0,-0.21),(-0.03,-0.23),(0.04,-0.24),
(-0.083,-0.3),(-0.043,-0.3),(0.066,-0.295),(0.056,-0.327),(-0.033,-0.34),(-0.043,-0.382),(0.05,-0.364),(0,-0.409),(-0.066,-0.458),(-0.033,-0.518),(-0.076,-0.669)]

b_x_pos = [1231,1337,1436]
c_x_pos = [1821,1927,2026]

# ---------- panel d : phenotype index, -log10 p, direction ----------
pw_blue_x=[1,2,3]; pw_blue_y=[0.38,0,0]; pw_blue_up=[1,0,0]
pw_teal_x=[4,5,6,7,8,9,10]; pw_teal_y=[0,0,0,0,0,0,0]
pw_brown_x=[11,12,13.3,14]; pw_brown_y=[0.75,0.74,0.18,0.15]
pw_navy_x=[14.8,15.8]
pw_sense_x=[18,19,20]
pw_circ_up_x=[22,23,24.3,25,26,27.3,28]; pw_circ_up_y=[2.92,2.11,1.19,1.19,1.0,0.46,0.46]
pw_circ_dn_x=[29,30,31,32,33,34,35,36,37,38,39,40,41]
pw_dig_up_x=[42,43,44,45.3,46.3,47.3,48.3,49.3,50.3,51.3,52.3,59.3]; pw_dig_up_y=[1.37,1.12,0.75,0.42,0.43,0.26,0.26,0.24,0.24,0.24,0.24,0.1]
pw_dig_dn_x=[53,54,55,56,57,58,59,60,61,62,63,64,65,66,67,68,69,70,71,72,73]
pw_gu_up_x=[73.3,74.4,75.3,76.3,77.3,78.1,79.1,80.1,81.1,82.1,83.1,84.1,85.1,86.1,87.1,88.1,89.1,90.1]; pw_gu_up_y=[3.7,2.64,1.27,1.25,1.23,1.22,1.05,0.93,0.93,0.86,0.82,0.53,0.38,0.38,0.36,0.35,0.27,0.16]
pw_gu_dn_x=[91,92,93,94,95,96,97,98,99,100,101,102,103,104,105]
pw_preg_x=[105.3,106.5]; pw_preg_y=[0.43,0.43]
pw_derm_up_x=[107.5,108.5,109.8,110.5,111.5]; pw_derm_up_y=[0.99,0.82,0.82,0.82,0.6]
pw_derm_dn_x=[113,114,115,116,117,118]
pw_musc_up_x=[118.8,119.8,120.6,121.6,122.8,123.8,124.8]; pw_musc_up_y=[0.95,0.82,0.81,0.53,0.12,0.12,0.12]
pw_musc_dn_x=[125.8,126.8,127.8]
pw_inj_up_x=[128.6,129.6,130.8]; pw_inj_up_y=[0.79,0.66,0.12]
pw_inj_dn_x=[131.8,132.8,133.8,134.8,135.8,136.8]
pw_colors=dict(blue="#0000FF",teal="#008B8B",brown="#A52A2A",navy="#00008B",sense="#668B72",circ="#FF0000",dig="#458B00",gu="#000000",preg="#27408B",derm="#B22222",musc="#556B2F",inj="#7F7F7F")
pw_tick_x=[2,7,12.6,15.9,19.6,31.6,57.3,89,106,112.6,123.1,132.6]
pw_tick_lab=["Infectious diseases","Neoplasms","Endocrine/metabolic","Neurological","Sense organs","Circulatory system","Digestive","Genitourinary","Pregnancy complications","Dermatologic","Musculoskeletal","Injuries & poisonings"]
pw_sig=[3.43,1.3]

# ---------- helpers ----------
M = 8
W, H = 2084, 1210
one = pd.DataFrame({"a":[0]})

def T(s, x, y, size, **kw):
    kw.setdefault("align","left"); kw.setdefault("baseline","alphabetic"); kw.setdefault("color","black"); kw.setdefault("font",F)
    return alt.Chart(one).mark_text(text=s, fontSize=size, **kw).encode(x=alt.value(x-M), y=alt.value(y-M))

def S(dom, r0, r1):
    return alt.Scale(domain=dom, range=[r0-M, r1-M], nice=False, zero=False)

def frame(x0,y0,x1,y1,color,sw):
    return alt.Chart(one).mark_rect(fill=None, stroke=color, strokeWidth=sw).encode(x=alt.value(x0-M),x2=alt.value(x1-M),y=alt.value(y0-M),y2=alt.value(y1-M))

def mask(x0,y0,x1,y1):
    return alt.Chart(one).mark_rect(fill="white", stroke=None).encode(x=alt.value(x0-M),x2=alt.value(x1-M),y=alt.value(y0-M),y2=alt.value(y1-M))

def Yaxis(x, vals, size, tick=8, pad=4, domain=False, fmt=None, z=0):
    kw = dict(orient="left", offset=-(x-M), values=vals, title=None, grid=False, domain=domain, domainColor="black", domainWidth=2.5,
        ticks=True, tickColor="black", tickSize=tick, tickWidth=2, labelFontSize=size, labelFont=F, labelColor="black", labelPadding=pad,
        labelOverlap=False, labelBound=False, labelFlush=False, labelExpr="replace(datum.label,'−','-')", zindex=z)
    if fmt: kw["format"]=fmt
    return alt.Axis(**kw)

layers = []
AX0, AX1 = 114, 929
ax = S([0,400], AX0, AX1)

def locus(yscale, yvals, axis_size, groups, top_y, top_col):
    rows=[]
    for pts,col in groups:
        rows += [dict(kb=p[0],lp=p[1],col=col) for p in pts]
    df=pd.DataFrame(rows)
    out=[alt.Chart(df).mark_circle(size=225,opacity=1,stroke="#4a4a4a",strokeWidth=1).encode(
        x=alt.X("kb:Q",scale=ax,axis=None),
        y=alt.Y("lp:Q",scale=yscale,axis=Yaxis(AX0,yvals,axis_size,tick=9,pad=3,z=1)),
        color=alt.Color("col:N",scale=None))]
    t=pd.DataFrame({"kb":top_snp_x,"lp":top_y})
    out.append(alt.Chart(t).mark_point(shape="diamond",filled=True,size=250,opacity=1,color=top_col).encode(
        x=alt.X("kb:Q",scale=ax,axis=None),y=alt.Y("lp:Q",scale=yscale,axis=None)))
    t2=pd.DataFrame({"kb":[top_snp_x[0]+0.5],"lp":top_y})
    out.append(alt.Chart(t2).mark_circle(size=170,opacity=1,color=top_col).encode(
        x=alt.X("kb:Q",scale=ax,axis=None),y=alt.Y("lp:Q",scale=yscale,axis=None)))
    return out

y1 = S([-4,91.5],383,84)
y2 = S([-2.2,45],711,408)
y3 = S([-0.43,8.84],1033,734)
layers += locus(y1,[0,20,40,60,80],38,[(a1_gray,GRAY),(a1_navy,NAVY),(a1_extra,NAVY),(a1_grayhi,GRAY),(a1_red,RED),(a1_green,GREEN),(a1_lblue,LBLUE)],a1_top,"#7B2FD0")
layers += locus(y2,[0,10,20,30,40],38,[(a2_gray,GRAY),(a2_navy,NAVY),(a2_extra,NAVY),(a2_red,RED)],a2_top,"#7B2FD0")
layers += locus(y3,[0,2,4,6,8],38,[(a3_gray,GRAY),(a3_navy,NAVY),(a3_grayhi,GRAY),(a3_green,GREEN),(a3_red,RED),(a3_lblue,LBLUE)],a3_top,"#7A1090")

# points are cut at the panel edges; then panel frames
layers += [mask(100,84,AX0,1033), mask(AX1,84,945,1033), mask(AX0,383,AX1,408), mask(AX0,711,AX1,734), mask(AX0,1033,AX1,1041)]
layers += [frame(AX0,84,AX1,383,"#BDBDBD",2), frame(AX0,408,AX1,711,"#BDBDBD",2), frame(AX0,734,AX1,1033,"#BDBDBD",2), frame(113,1041,931,1155,"#222222",2)]

PURP="#4B0F6E"
layers += [
    T("a",8,53,50,fontWeight="bold"), T("b",1005,53,50,fontWeight="bold"), T("c",1698,53,50,fontWeight="bold"), T("d",1003,637,50,fontWeight="bold"),
    T("moloc PPA = 0.98",519,61,39,align="center"),
    T("GWAS",132,128,39), T("eGFRcrea",132,176,39),
    T("meQTL",132,445,39), T("cg15971010",132,493,39),
    T("eQTL",132,775,39), T("SLC47A1",132,823,39,fontStyle="italic"),
    T("rs2252281",473,119,30,align="center",color=PURP), T("rs2252281",473,433,30,align="center",color=PURP), T("rs2252281",473,761,30,align="center",color=PURP),
    T("rs111653425",614,124,30),
    T("-lgo10(p−value)",43,236,38,align="center",angle=270), T("-lgo10(p−value)",43,563,38,align="center",angle=270), T("-lgo10(p−value)",43,894,38,align="center",angle=270),
    T("chr17:19,237,187-19,637,187 (400kb)",484,1205,30,align="center"),
    T("SLC47A1",562,1097,32,align="center",fontStyle="italic"),
    T("r",869,109,22), T("2",877,103,22),
]

# legend
ly = S([0,1],196,118)
layers.append(alt.Chart(pd.DataFrame({"lo":r2_lo,"hi":r2_hi,"col":r2_col})).mark_rect(stroke="#666666",strokeWidth=1.5).encode(
    x=alt.value(859-M),x2=alt.value(875-M),
    y=alt.Y("lo:Q",scale=ly,axis=alt.Axis(orient="right",offset=-(W-(875-M)),values=[0,0.2,0.4,0.6,0.8,1.0],format=".1f",title=None,grid=False,domain=False,tickColor="#666666",tickSize=4,tickWidth=1.5,labelFontSize=16,labelFont=F,labelColor="black",labelPadding=3,labelOverlap=False,labelBound=False,labelFlush=False)),
    y2="hi:Q",color=alt.Color("col:N",scale=None)))

# genes
gy = S([1,4],1061.7,1147)
gl = pd.DataFrame(gene_lines,columns=["g","a","b","row"])
layers.append(alt.Chart(gl[~gl.g.isin(gene_block)]).mark_rule(color=NAVY,strokeWidth=2).encode(
    x=alt.X("a:Q",scale=ax,axis=None),x2="b:Q",y=alt.Y("row:Q",scale=gy,axis=None)))
layers.append(alt.Chart(gl[gl.g.isin(gene_block)]).mark_rule(color=NAVY,strokeWidth=8).encode(
    x=alt.X("a:Q",scale=ax,axis=None),x2="b:Q",y=alt.Y("row:Q",scale=gy,axis=None)))
layers.append(alt.Chart(pd.DataFrame({"x":exon_x,"row":exon_row})).mark_tick(color=NAVY,thickness=2,size=9,orient="vertical").encode(
    x=alt.X("x:Q",scale=ax,axis=None),y=alt.Y("row:Q",scale=gy,axis=None)))
layers.append(alt.Chart(pd.DataFrame({"x":gene_label_kb,"row":gene_label_row,"t":gene_names})).mark_text(font=F,fontSize=18,fontStyle="italic",align="left",baseline="alphabetic",dy=-6,color="black").encode(
    x=alt.X("x:Q",scale=ax,axis=None),y=alt.Y("row:Q",scale=gy,axis=None),text="t:N"))
layers.append(alt.Chart(pd.DataFrame({"x":arrow_kb,"row":arrow_row,"t":arrow_txt})).mark_text(font="DejaVu Sans",fontSize=17,fontWeight="bold",align="center",baseline="middle",dy=-11,color="black").encode(
    x=alt.X("x:Q",scale=ax,axis=None),y=alt.Y("row:Q",scale=gy,axis=None),text="t:N"))

# box panels
def boxes(x0,x1,yscale,yvals,fmt,ytop,ybot,q1,med,q3,lo,hi,dots,ysize,lab_x,lab_y):
    bx=S([0.4,3.6],x0,x1)
    df=pd.DataFrame({"g":geno_idx,"a":[i-0.355 for i in geno_idx],"b":[i+0.355 for i in geno_idx],"q1":q1,"med":med,"q3":q3,"lo":lo,"hi":hi,"col":NPG})
    out=[]
    xaxis=alt.Axis(orient="bottom",offset=-(H-(ybot-M)),values=geno_idx,title=None,grid=False,domain=False,tickColor="black",tickSize=7,tickWidth=2,labels=False)
    out.append(alt.Chart(df).mark_rule(color="black",strokeWidth=2.5).encode(
        x=alt.X("g:Q",scale=bx,axis=xaxis),y=alt.Y("lo:Q",scale=yscale,axis=Yaxis(x0,yvals,ysize,tick=7,pad=5,fmt=fmt)),y2="hi:Q"))
    out.append(alt.Chart(df).mark_rect(stroke="#222222",strokeWidth=2).encode(
        x=alt.X("a:Q",scale=bx,axis=None),x2="b:Q",y=alt.Y("q1:Q",scale=yscale,axis=None),y2="q3:Q",color=alt.Color("col:N",scale=None)))
    out.append(alt.Chart(df).mark_rule(color="black",strokeWidth=4).encode(
        x=alt.X("a:Q",scale=bx,axis=None),x2="b:Q",y=alt.Y("med:Q",scale=yscale,axis=None)))
    rows=[]
    for i,d in zip(geno_idx,dots):
        rows+=[dict(x=i+p[0],y=p[1]) for p in d]
    out.append(alt.Chart(pd.DataFrame(rows)).mark_circle(size=10,opacity=1,color="black").encode(
        x=alt.X("x:Q",scale=bx,axis=None),y=alt.Y("y:Q",scale=yscale,axis=None)))
    out.append(alt.Chart(one).mark_rule(color="black",strokeWidth=2.5).encode(x=alt.value(x0-M),y=alt.value(ytop-M),y2=alt.value(ybot-M)))
    out.append(alt.Chart(one).mark_rule(color="black",strokeWidth=2.5).encode(x=alt.value(x0-M),x2=alt.value(x1-M),y=alt.value(ybot-M)))
    for g,xp in zip(genotypes,lab_x):
        out.append(T(g,xp,lab_y,39,align="center"))
    return out

layers += boxes(1174,1503,S([-3,3.33],445,84),[-2,-1,0,1,2,3],"d",84,445,b_q1,b_med,b_q3,b_lo,b_hi,[b_tt,b_tc,b_cc],32,b_x_pos,484)
layers += boxes(1761,2089,S([-0.755,1.08],444.6,84),[-0.6,-0.2,0.2,0.6,1.0],".1f",84,444.6,c_q1,c_med,c_q3,c_lo,c_hi,[c_tt,c_tc,c_cc],32,c_x_pos,485)

layers += [
    T("meQTL,",1178,61,38), T("p",1333,61,32,fontStyle="italic"), T("= 1.5×10",1362,61,32), T("-39",1491,51,21),
    T("eQTL,",1762,61,38), T("p",1884,61,32,fontStyle="italic"), T("= 5.4×10",1912,61,32), T("-8",2040,51,21),
    T("Normalized"+NB+NB+"methylation",1066,262,38,align="center",angle=270), T("of cg15971010",1114,262,38,align="center",angle=270),
    T("rs2252281",1336,536,38,align="center"), T("rs2252281",1925,533,38,align="center"),
    T("Normalized"+NB+NB+"expression",1624,258,38,align="center",angle=270),
    T("of",1671,364,38,align="left",angle=270), T("SLC47A1",1671,318,38,align="left",angle=270,fontStyle="italic"),
]

# panel d
dx = S([-0.45,137.35],1128.4,2100)
dy = S([-0.21,4.6],929,663)
def tri(xs,ys,col,up=True):
    return [dict(x=a,y=b,col=col,sh="triangle-up" if up else "triangle-down") for a,b in zip(xs,ys)]
c=pw_colors
rows = []
rows += tri(pw_blue_x[1:],pw_blue_y[1:],c["blue"],False)+tri(pw_blue_x[:1],pw_blue_y[:1],c["blue"])
rows += tri(pw_teal_x,pw_teal_y,c["teal"],False)
rows += tri(pw_brown_x,pw_brown_y,c["brown"])
rows += tri(pw_navy_x,[0,0],c["navy"],False)
rows += tri(pw_sense_x,[0,0,0],c["sense"],False)
rows += tri(pw_circ_up_x,pw_circ_up_y,c["circ"])+tri(pw_circ_dn_x,[0]*len(pw_circ_dn_x),c["circ"],False)
rows += tri(pw_dig_up_x,pw_dig_up_y,c["dig"])+tri(pw_dig_dn_x,[0]*len(pw_dig_dn_x),c["dig"],False)
rows += tri(pw_gu_up_x,pw_gu_up_y,c["gu"])+tri(pw_gu_dn_x,[0]*len(pw_gu_dn_x),c["gu"],False)
rows += tri(pw_preg_x,pw_preg_y,c["preg"])
rows += tri(pw_derm_up_x,pw_derm_up_y,c["derm"])+tri(pw_derm_dn_x,[0]*len(pw_derm_dn_x),c["derm"],False)
rows += tri(pw_musc_up_x,pw_musc_up_y,c["musc"])+tri(pw_musc_dn_x,[0]*len(pw_musc_dn_x),c["musc"],False)
rows += tri(pw_inj_up_x,pw_inj_up_y,c["inj"])+tri(pw_inj_dn_x,[0]*len(pw_inj_dn_x),c["inj"],False)
pw=pd.DataFrame(rows)
lab_expr = "{" + ",".join(f"'{x}':'{l}'" for x,l in zip(pw_tick_x,pw_tick_lab)) + "}[''+datum.value]"
layers.append(alt.Chart(pd.DataFrame({"y":pw_sig,"col":["#FFA6A6","#A6A6FF"]})).mark_rule(strokeWidth=5.5).encode(
    x=alt.value(1128.4-M),x2=alt.value(2100-M),y=alt.Y("y:Q",scale=dy,axis=None),color=alt.Color("col:N",scale=None)))
layers.append(alt.Chart(pw).mark_point(filled=True,opacity=1,size=560).encode(
    x=alt.X("x:Q",scale=dx,axis=alt.Axis(orient="bottom",offset=-(H-(929-M)),values=pw_tick_x,title=None,grid=False,domain=False,tickColor="black",tickSize=6,tickWidth=2,
        labelFontSize=29,labelFont=F,labelColor="black",labelAngle=305,labelAlign="right",labelBaseline="middle",labelPadding=6,labelLimit=600,labelOverlap=False,labelBound=False,labelFlush=False,labelExpr=lab_expr)),
    y=alt.Y("y:Q",scale=dy,axis=Yaxis(1128.4,[0,1,2,3,4],32,tick=7,pad=3)),
    color=alt.Color("col:N",scale=None),shape=alt.Shape("sh:N",scale=None)))
layers += [
    alt.Chart(one).mark_rule(color="black",strokeWidth=2.5).encode(x=alt.value(1128.4-M),y=alt.value(663-M),y2=alt.value(929-M)),
    alt.Chart(one).mark_rule(color="black",strokeWidth=3).encode(x=alt.value(1128.4-M),x2=alt.value(2100-M),y=alt.value(929-M)),
    T("Phenome-wide association study of",1123,647,33), T("SLC47A1",1658,647,33,fontStyle="italic"), T("(136 phenotypes)",1808,647,33),
    T("-log10(",1075,933,38,angle=270), T("p",1075,815,38,angle=270,fontStyle="italic"), T("value)",1075,773,38,angle=270),
    T("Congestive",1295,728,30), T("Heart failure",1295,764,30), T("Acute renal failure",1655,712,30), T("Renal failure",1667,781,30),
    T("Phenotypes",1549,1208,39,align="center"),
]

chart = alt.layer(*layers).resolve_scale(x="independent",y="independent",color="independent",shape="independent").properties(
    width=W,height=H,padding=0,autosize=alt.AutoSizeParams(type="none")
).configure_view(stroke=None).configure_axis(grid=False)
chart.save("out.html", embed_options={"renderer":"svg","actions":False})
